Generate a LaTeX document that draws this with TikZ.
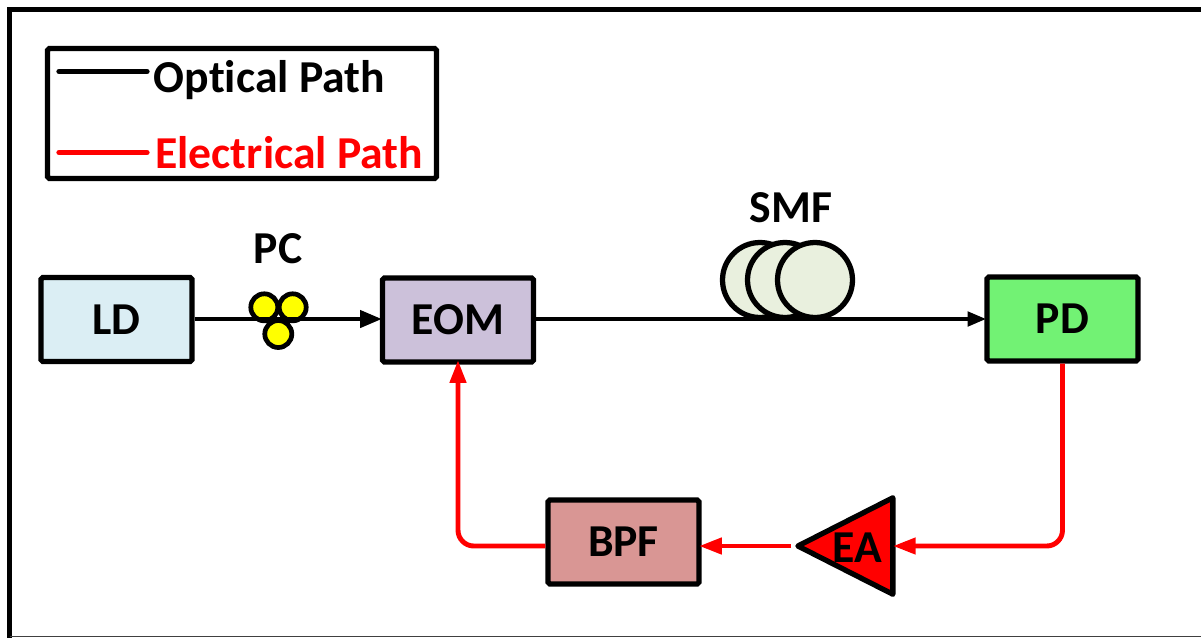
\documentclass[tikz,border=0pt]{standalone}
\usepackage{xcolor}
\usepackage{fontspec}
\setmainfont{Carlito}[Ligatures=NoCommon]
\usetikzlibrary{arrows.meta,shapes.geometric}
\definecolor{ldblue}{HTML}{DBEEF4}
\definecolor{eomlilac}{HTML}{CCC1DA}
\definecolor{pdgreen}{HTML}{72F274}
\definecolor{bpfrose}{HTML}{D99694}
\definecolor{smfgreen}{HTML}{E9F0DE}
\definecolor{pcyellow}{HTML}{FFFF00}
\begin{document}
\begin{tikzpicture}[x=0.02cm,y=-0.02cm]
    \tikzset{lab/.style={font=\fontsize{26}{30}\selectfont\bfseries,inner sep=0pt},
             blk/.style={draw,line width=3pt,rounded corners=1pt,minimum width=3.02cm,minimum height=1.68cm,inner sep=0pt,lab},
             coil/.style={circle,draw,line width=3pt,fill=smfgreen,minimum size=1.5cm,inner sep=0pt},
             pol/.style={circle,draw,line width=2.7pt,fill=pcyellow,minimum size=0.54cm,inner sep=0pt},
             opt/.style={line width=2.65pt,shorten >=-1.2pt,-{Triangle[length=12.5pt,width=9.6pt]}},
             optb/.style={line width=2.65pt,shorten >=-1.2pt,-{Triangle[length=10.8pt,width=8pt]}},
             ele/.style={red,line width=2.8pt,rounded corners=9pt,shorten >=-1.5pt,-{Triangle[length=13pt,width=9pt]}},
             key/.style={line width=3pt,line cap=round}}
    \useasboundingbox (0,0) rectangle (1201,637);
    \clip (0,0) rectangle (1201,637);
    \draw[line width=3pt] (9.5,660) -- (9.5,9.8) -- (1230,9.8);
    \draw[black!75,line width=0.8pt] (9.5,636.3) -- (1201,636.3);
    % legend
    \node[draw,line width=3pt,rounded corners=1pt,minimum width=7.78cm,minimum height=2.6cm,inner sep=0pt] (keybox) at (242,113.5) {};
    \coordinate (optl) at (59,71.5);
    \coordinate (optr) at (147,71.5);
    \coordinate (elel) at (59,152.5);
    \coordinate (eler) at (147,152.5);
    \draw[key] (optl) -- (optr);
    \draw[key,red] (elel) -- (eler);
    \node[lab,anchor=west] (opttxt) at (153.5,80) {Optical Path};
    \node[lab,anchor=west,red] (eletxt) at (155,153) {Electrical Path};
    % blocks
    \node[blk,fill=ldblue] (LD) at (116.5,319.5) {\raisebox{-1.7pt}{LD}};
    \node[blk,fill=eomlilac] (EOM) at (458,320) {EOM};
    \node[blk,fill=pdgreen] (PD) at (1062.5,319) {PD};
    \node[blk,fill=bpfrose] (BPF) at (623.5,542) {BPF};
    \node[isosceles triangle,isosceles triangle stretches,shape border rotate=180,draw,line width=3pt,
          line join=round,fill=red,minimum width=1.93cm,minimum height=1.9cm,inner sep=0pt,anchor=apex] (EA) at (791,546) {};
    \node[lab] (EAtxt) at (857,548) {EA};
    % PC
    \node[pol] (PCa) at (264.3,307.3) {};
    \node[pol] (PCb) at (292.7,307.3) {};
    \node[pol] (PCc) at (278.3,334) {};
    \node[lab] (PCtxt) at (278,249) {PC};
    % SMF
    \node[coil] (SMFa) at (760,280) {};
    \node[coil] (SMFb) at (785,280) {};
    \node[coil] (SMFc) at (815,280) {};
    \node[lab] (SMFtxt) at (791,208) {SMF};
    % paths
    \draw[opt] (LD.east |- 0,319) -- (EOM.west |- 0,319);
    \draw[optb] (EOM.east |- 0,319) -- (PD.west |- 0,319);
    \draw[ele] (PD.south) |- (EA.lower side);
    \draw[ele] (EA.apex) -- (BPF.east |- EA.apex);
    \draw[ele,shorten >=-2.6pt] (BPF.west |- EA.apex) -| (EOM.south);
\end{tikzpicture}
\end{document}
